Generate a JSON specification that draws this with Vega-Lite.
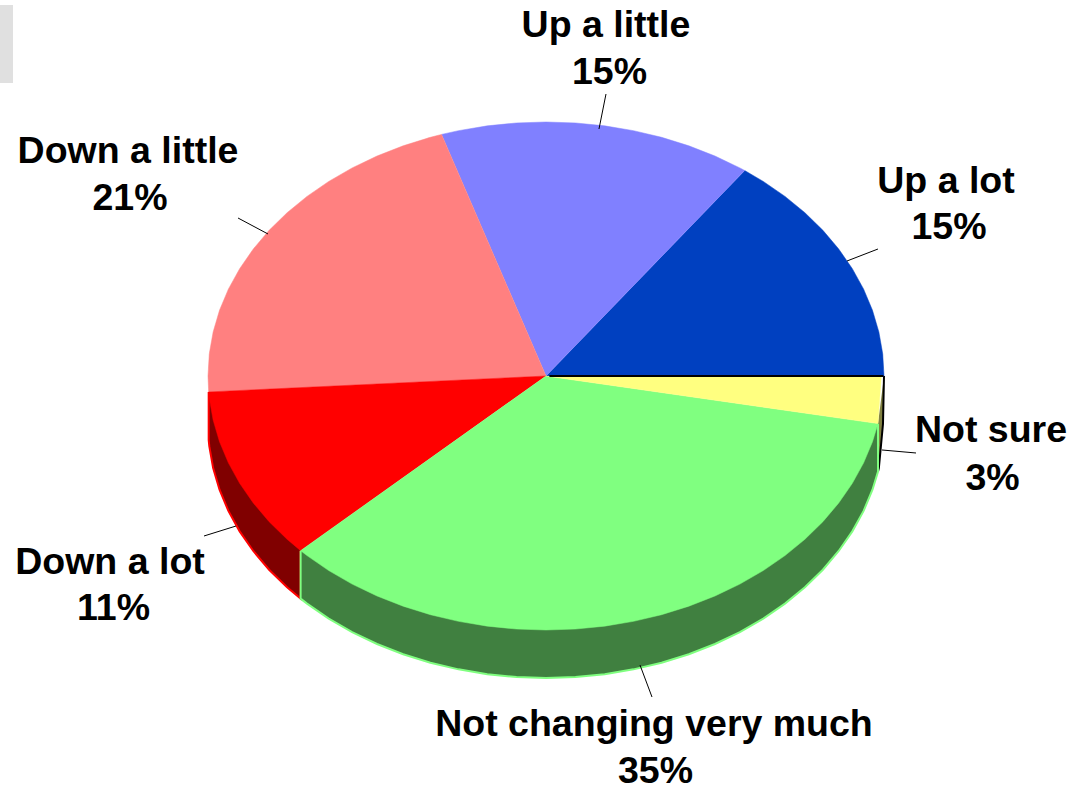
{"$schema":"https://vega.github.io/schema/vega-lite/v6.json","width":1070,"height":785,"autosize":{"type":"none"},"padding":0,"background":"white","view":{"stroke":null},
"datasets":{
"walls":[
{"s":"Down a lot","o":0,"x":-0.998,"y":-0.0628},{"s":"Down a lot","o":1,"x":-0.998,"y":-0.2518},{"s":"Down a lot","o":2,"x":-0.9962,"y":-0.2762},{"s":"Down a lot","o":3,"x":-0.9848,"y":-0.3626},{"s":"Down a lot","o":4,"x":-0.9659,"y":-0.4478},{"s":"Down a lot","o":5,"x":-0.9397,"y":-0.531},{"s":"Down a lot","o":6,"x":-0.9063,"y":-0.6116},{"s":"Down a lot","o":7,"x":-0.866,"y":-0.689},{"s":"Down a lot","o":8,"x":-0.8192,"y":-0.7626},{"s":"Down a lot","o":9,"x":-0.766,"y":-0.8318},{"s":"Down a lot","o":10,"x":-0.726,"y":-0.8765},{"s":"Down a lot","o":11,"x":-0.726,"y":-0.6875},
{"s":"Not sure","o":0,"x":1,"y":0},{"s":"Not sure","o":1,"x":0.997,"y":-0.189},{"s":"Not sure","o":2,"x":0.9848,"y":-0.3626},{"s":"Not sure","o":3,"x":0.9823,"y":-0.3764},{"s":"Not sure","o":4,"x":0.9823,"y":-0.1874},
{"s":"Not changing very much","o":0,"x":-0.726,"y":-0.6875},{"s":"Not changing very much","o":1,"x":-0.726,"y":-0.8765},{"s":"Not changing very much","o":2,"x":-0.7071,"y":-0.8961},{"s":"Not changing very much","o":3,"x":-0.6428,"y":-0.955},{"s":"Not changing very much","o":4,"x":-0.5736,"y":-1.0082},{"s":"Not changing very much","o":5,"x":-0.5,"y":-1.055},{"s":"Not changing very much","o":6,"x":-0.4226,"y":-1.0953},{"s":"Not changing very much","o":7,"x":-0.342,"y":-1.1287},{"s":"Not changing very much","o":8,"x":-0.2588,"y":-1.1549},{"s":"Not changing very much","o":9,"x":-0.1736,"y":-1.1738},{"s":"Not changing very much","o":10,"x":-0.0872,"y":-1.1852},{"s":"Not changing very much","o":11,"x":0,"y":-1.189},{"s":"Not changing very much","o":12,"x":0.0872,"y":-1.1852},{"s":"Not changing very much","o":13,"x":0.1736,"y":-1.1738},{"s":"Not changing very much","o":14,"x":0.2588,"y":-1.1549},{"s":"Not changing very much","o":15,"x":0.342,"y":-1.1287},{"s":"Not changing very much","o":16,"x":0.4226,"y":-1.0953},{"s":"Not changing very much","o":17,"x":0.5,"y":-1.055},{"s":"Not changing very much","o":18,"x":0.5736,"y":-1.0082},{"s":"Not changing very much","o":19,"x":0.6428,"y":-0.955},{"s":"Not changing very much","o":20,"x":0.7071,"y":-0.8961},{"s":"Not changing very much","o":21,"x":0.766,"y":-0.8318},{"s":"Not changing very much","o":22,"x":0.8192,"y":-0.7626},{"s":"Not changing very much","o":23,"x":0.866,"y":-0.689},{"s":"Not changing very much","o":24,"x":0.9063,"y":-0.6116},{"s":"Not changing very much","o":25,"x":0.9397,"y":-0.531},{"s":"Not changing very much","o":26,"x":0.9659,"y":-0.4478},{"s":"Not changing very much","o":27,"x":0.9823,"y":-0.3764},{"s":"Not changing very much","o":28,"x":0.9823,"y":-0.1874}
],
"top":[
{"s":"Up a lot","o":0,"x":0,"y":0},{"s":"Up a lot","o":1,"x":1,"y":0},{"s":"Up a lot","o":2,"x":0.9962,"y":0.0872},{"s":"Up a lot","o":3,"x":0.9848,"y":0.1736},{"s":"Up a lot","o":4,"x":0.9659,"y":0.2588},{"s":"Up a lot","o":5,"x":0.9397,"y":0.342},{"s":"Up a lot","o":6,"x":0.9063,"y":0.4226},{"s":"Up a lot","o":7,"x":0.866,"y":0.5},{"s":"Up a lot","o":8,"x":0.8192,"y":0.5736},{"s":"Up a lot","o":9,"x":0.766,"y":0.6428},{"s":"Up a lot","o":10,"x":0.7071,"y":0.7071},{"s":"Up a lot","o":11,"x":0.6428,"y":0.766},{"s":"Up a lot","o":12,"x":0.5878,"y":0.809},
{"s":"Up a little","o":0,"x":0,"y":0},{"s":"Up a little","o":1,"x":0.5878,"y":0.809},{"s":"Up a little","o":2,"x":0.5736,"y":0.8192},{"s":"Up a little","o":3,"x":0.5,"y":0.866},{"s":"Up a little","o":4,"x":0.4226,"y":0.9063},{"s":"Up a little","o":5,"x":0.342,"y":0.9397},{"s":"Up a little","o":6,"x":0.2588,"y":0.9659},{"s":"Up a little","o":7,"x":0.1736,"y":0.9848},{"s":"Up a little","o":8,"x":0.0872,"y":0.9962},{"s":"Up a little","o":9,"x":0,"y":1},{"s":"Up a little","o":10,"x":-0.0872,"y":0.9962},{"s":"Up a little","o":11,"x":-0.1736,"y":0.9848},{"s":"Up a little","o":12,"x":-0.2588,"y":0.9659},{"s":"Up a little","o":13,"x":-0.309,"y":0.9511},
{"s":"Down a little","o":0,"x":0,"y":0},{"s":"Down a little","o":1,"x":-0.309,"y":0.9511},{"s":"Down a little","o":2,"x":-0.342,"y":0.9397},{"s":"Down a little","o":3,"x":-0.4226,"y":0.9063},{"s":"Down a little","o":4,"x":-0.5,"y":0.866},{"s":"Down a little","o":5,"x":-0.5736,"y":0.8192},{"s":"Down a little","o":6,"x":-0.6428,"y":0.766},{"s":"Down a little","o":7,"x":-0.7071,"y":0.7071},{"s":"Down a little","o":8,"x":-0.766,"y":0.6428},{"s":"Down a little","o":9,"x":-0.8192,"y":0.5736},{"s":"Down a little","o":10,"x":-0.866,"y":0.5},{"s":"Down a little","o":11,"x":-0.9063,"y":0.4226},{"s":"Down a little","o":12,"x":-0.9397,"y":0.342},{"s":"Down a little","o":13,"x":-0.9659,"y":0.2588},{"s":"Down a little","o":14,"x":-0.9848,"y":0.1736},{"s":"Down a little","o":15,"x":-0.9962,"y":0.0872},{"s":"Down a little","o":16,"x":-1,"y":0},{"s":"Down a little","o":17,"x":-0.998,"y":-0.0628},
{"s":"Down a lot","o":0,"x":0,"y":0},{"s":"Down a lot","o":1,"x":-0.998,"y":-0.0628},{"s":"Down a lot","o":2,"x":-0.9962,"y":-0.0872},{"s":"Down a lot","o":3,"x":-0.9848,"y":-0.1736},{"s":"Down a lot","o":4,"x":-0.9659,"y":-0.2588},{"s":"Down a lot","o":5,"x":-0.9397,"y":-0.342},{"s":"Down a lot","o":6,"x":-0.9063,"y":-0.4226},{"s":"Down a lot","o":7,"x":-0.866,"y":-0.5},{"s":"Down a lot","o":8,"x":-0.8192,"y":-0.5736},{"s":"Down a lot","o":9,"x":-0.766,"y":-0.6428},{"s":"Down a lot","o":10,"x":-0.726,"y":-0.6875},
{"s":"Not changing very much","o":0,"x":0,"y":0},{"s":"Not changing very much","o":1,"x":-0.726,"y":-0.6875},{"s":"Not changing very much","o":2,"x":-0.7071,"y":-0.7071},{"s":"Not changing very much","o":3,"x":-0.6428,"y":-0.766},{"s":"Not changing very much","o":4,"x":-0.5736,"y":-0.8192},{"s":"Not changing very much","o":5,"x":-0.5,"y":-0.866},{"s":"Not changing very much","o":6,"x":-0.4226,"y":-0.9063},{"s":"Not changing very much","o":7,"x":-0.342,"y":-0.9397},{"s":"Not changing very much","o":8,"x":-0.2588,"y":-0.9659},{"s":"Not changing very much","o":9,"x":-0.1736,"y":-0.9848},{"s":"Not changing very much","o":10,"x":-0.0872,"y":-0.9962},{"s":"Not changing very much","o":11,"x":0,"y":-1},{"s":"Not changing very much","o":12,"x":0.0872,"y":-0.9962},{"s":"Not changing very much","o":13,"x":0.1736,"y":-0.9848},{"s":"Not changing very much","o":14,"x":0.2588,"y":-0.9659},{"s":"Not changing very much","o":15,"x":0.342,"y":-0.9397},{"s":"Not changing very much","o":16,"x":0.4226,"y":-0.9063},{"s":"Not changing very much","o":17,"x":0.5,"y":-0.866},{"s":"Not changing very much","o":18,"x":0.5736,"y":-0.8192},{"s":"Not changing very much","o":19,"x":0.6428,"y":-0.766},{"s":"Not changing very much","o":20,"x":0.7071,"y":-0.7071},{"s":"Not changing very much","o":21,"x":0.766,"y":-0.6428},{"s":"Not changing very much","o":22,"x":0.8192,"y":-0.5736},{"s":"Not changing very much","o":23,"x":0.866,"y":-0.5},{"s":"Not changing very much","o":24,"x":0.9063,"y":-0.4226},{"s":"Not changing very much","o":25,"x":0.9397,"y":-0.342},{"s":"Not changing very much","o":26,"x":0.9659,"y":-0.2588},{"s":"Not changing very much","o":27,"x":0.9823,"y":-0.1874},
{"s":"Not sure","o":0,"x":0,"y":0},{"s":"Not sure","o":1,"x":0.9823,"y":-0.1874},{"s":"Not sure","o":2,"x":0.992,"y":0}
],
"edge":[{"x":0.01,"y":0,"x2":0.998,"y2":0}],
"leaders":[
{"s":"Up a lot","x":0.8905,"y":0.4528,"x2":0.9822,"y2":0.5},
{"s":"Up a little","x":0.1568,"y":0.9724,"x2":0.1775,"y2":1.1102},
{"s":"Down a little","x":-0.8225,"y":0.5591,"x2":-0.9112,"y2":0.622},
{"s":"Down a lot","x":-0.9172,"y":-0.5906,"x2":-1.0118,"y2":-0.6299},
{"s":"Not changing very much","x":0.2781,"y":-1.1378,"x2":0.3136,"y2":-1.2638},
{"s":"Not sure","x":0.9941,"y":-0.2913,"x2":1.0947,"y2":-0.3031}
],
"labels":[
{"t":"Up a lot","x":1.1834,"y":0.7637},
{"t":"15%","x":1.1923,"y":0.5826},
{"t":"Up a little","x":0.1775,"y":1.3778},
{"t":"15%","x":0.1879,"y":1.1928},
{"t":"Down a little","x":-1.2367,"y":0.8818},
{"t":"21%","x":-1.2308,"y":0.6967},
{"t":"Down a lot","x":-1.29,"y":-0.7363},
{"t":"11%","x":-1.2796,"y":-0.9174},
{"t":"Not changing very much","x":0.3195,"y":-1.3741},
{"t":"35%","x":0.324,"y":-1.5592},
{"t":"Not sure","x":1.3166,"y":-0.2167},
{"t":"3%","x":1.321,"y":-0.4056}
],
"block":[{"x":-1.6154,"x2":-1.577,"y":1.4606,"y2":1.1535}]
},
"encoding":{
"x":{"field":"x","type":"quantitative","axis":null,"scale":{"domain":[-1.6154,1.5503],"nice":false,"zero":false}},
"y":{"field":"y","type":"quantitative","axis":null,"scale":{"domain":[-1.6102,1.4803],"nice":false,"zero":false}}
},
"resolve":{"scale":{"fill":"independent","stroke":"independent"}},
"layer":[
{"data":{"name":"block"},"mark":{"type":"rect","color":"#e0e0e0"},"encoding":{"x2":{"field":"x2"},"y2":{"field":"y2"}}},
{"data":{"name":"walls"},"mark":{"type":"line","strokeWidth":2,"interpolate":"linear"},"encoding":{"order":{"field":"o","type":"quantitative"},"detail":{"field":"s"},"fill":{"field":"s","type":"nominal","legend":null,"scale":{"domain":["Down a lot","Not changing very much","Not sure"],"range":["#800000","#408040","#808040"]}},"stroke":{"field":"s","type":"nominal","legend":null,"scale":{"domain":["Down a lot","Not changing very much","Not sure"],"range":["#ff0000","#80ff80","#000000"]}}}},
{"data":{"name":"top"},"mark":{"type":"line","strokeWidth":0.5,"interpolate":"linear"},"encoding":{"order":{"field":"o","type":"quantitative"},"detail":{"field":"s"},"fill":{"field":"s","type":"nominal","legend":null,"scale":{"domain":["Up a lot","Up a little","Down a little","Down a lot","Not changing very much","Not sure"],"range":["#0040c0","#8080ff","#ff8080","#ff0000","#80ff80","#ffff80"]}},"stroke":{"field":"s","type":"nominal","legend":null,"scale":{"domain":["Up a lot","Up a little","Down a little","Down a lot","Not changing very much","Not sure"],"range":["#0040c0","#8080ff","#ff8080","#ff0000","#80ff80","#ffff80"]}}}},
{"data":{"name":"edge"},"mark":{"type":"rule","color":"#000000","strokeWidth":2},"encoding":{"x2":{"field":"x2"},"y2":{"field":"y2"}}},
{"data":{"name":"leaders"},"mark":{"type":"rule","color":"#000000","strokeWidth":1},"encoding":{"x2":{"field":"x2"},"y2":{"field":"y2"}}},
{"data":{"name":"labels"},"mark":{"type":"text","font":"Liberation Sans","fontWeight":"bold","fontSize":37.5,"align":"center","baseline":"middle","color":"#000000"},"encoding":{"text":{"field":"t"}}}
]}
